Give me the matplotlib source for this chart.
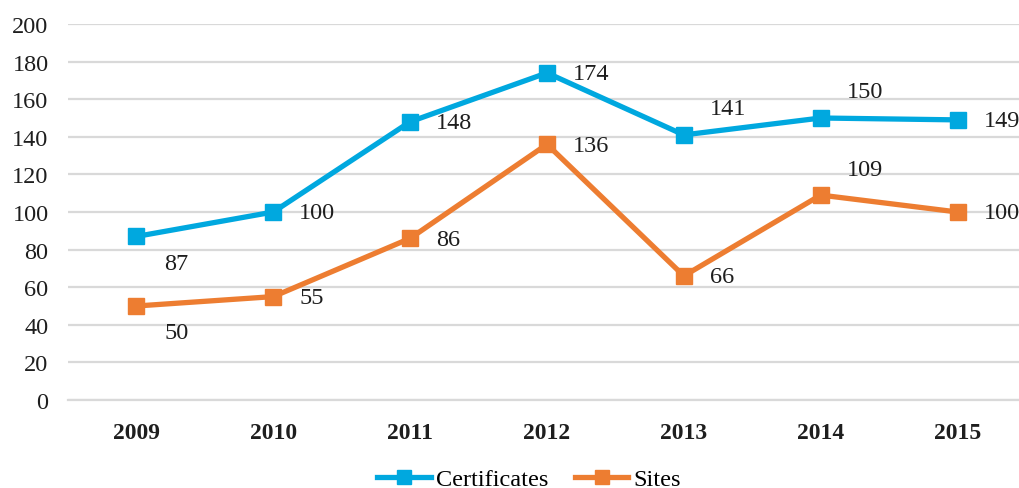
import matplotlib
matplotlib.use("Agg")
import matplotlib.pyplot as plt
from matplotlib.lines import Line2D

years = ["2009", "2010", "2011", "2012", "2013", "2014", "2015"]
certificates = [87, 100, 148, 174, 141, 150, 149]
sites = [50, 55, 86, 136, 66, 109, 100]
y_ticks = [0, 20, 40, 60, 80, 100, 120, 140, 160, 180, 200]

# label placement: 'r' = right, 'b' = below-right, 'a' = above-right
cert_pos = ['b', 'r', 'r', 'r', 'a', 'a', 'r']
sites_pos = ['b', 'r', 'r', 'r', 'r', 'a', 'r']

BLUE = "#00A8DF"
ORANGE = "#ED7D31"
GRID = "#D9D9D9"
TXT = "#1E1E1E"
FS = 17.5

plt.rcParams['font.family'] = ['Liberation Serif', 'DejaVu Serif']

fig = plt.figure(figsize=(10.19, 4.89), dpi=100)
ax = fig.add_axes([68/1019, 88/489, (1026-68)/1019, (401-25)/489])

x = list(range(len(years)))
ax.plot(x, certificates, color=BLUE, lw=3.8, marker='s', ms=11, solid_joinstyle='miter', zorder=3)
ax.plot(x, sites, color=ORANGE, lw=3.8, marker='s', ms=11, solid_joinstyle='miter', zorder=3)

def label(vals, poss):
    for xi, v, p in zip(x, vals, poss):
        if p == 'r':
            ax.annotate(str(v), (xi, v), xytext=(26, -1), textcoords='offset pixels',
                        ha='left', va='center', fontsize=FS, color=TXT)
        elif p == 'b':
            ax.annotate(str(v), (xi, v), xytext=(40, -27), textcoords='offset pixels',
                        ha='center', va='center', fontsize=FS, color=TXT)
        else:
            ax.annotate(str(v), (xi, v), xytext=(44, 26), textcoords='offset pixels',
                        ha='center', va='center', fontsize=FS, color=TXT)

label(certificates, cert_pos)
label(sites, sites_pos)

ax.set_xlim(-0.5, len(years) - 0.5)
ax.set_ylim(0, 200)
ax.set_yticks(y_ticks)
ax.set_yticklabels([str(t) for t in y_ticks], fontsize=FS, color=TXT)
ax.set_xticks(x)
ax.set_xticklabels(years, fontsize=17, fontweight='bold', color=TXT)
ax.tick_params(axis='both', length=0)
ax.tick_params(axis='y', pad=14)
ax.tick_params(axis='x', pad=16)
ax.yaxis.grid(True, color=GRID, lw=1.6)
ax.set_axisbelow(True)
for s in ['top', 'right', 'left']:
    ax.spines[s].set_visible(False)
ax.spines['bottom'].set_color(GRID)
ax.spines['bottom'].set_linewidth(1.6)
ax.spines['bottom'].set_zorder(1)

handles = [
    Line2D([0], [0], color=BLUE, lw=3.8, marker='s', ms=10),
    Line2D([0], [0], color=ORANGE, lw=3.8, marker='s', ms=10),
]
fig.legend(handles, ["Certificates", "Sites"], loc='center', bbox_to_anchor=(529/1019, 1 - 480/489),
           ncol=2, frameon=False, fontsize=FS, handlelength=2.2, handletextpad=0.2,
           columnspacing=1.1, borderpad=0, borderaxespad=0)

fig.savefig("out.png", dpi=100)
